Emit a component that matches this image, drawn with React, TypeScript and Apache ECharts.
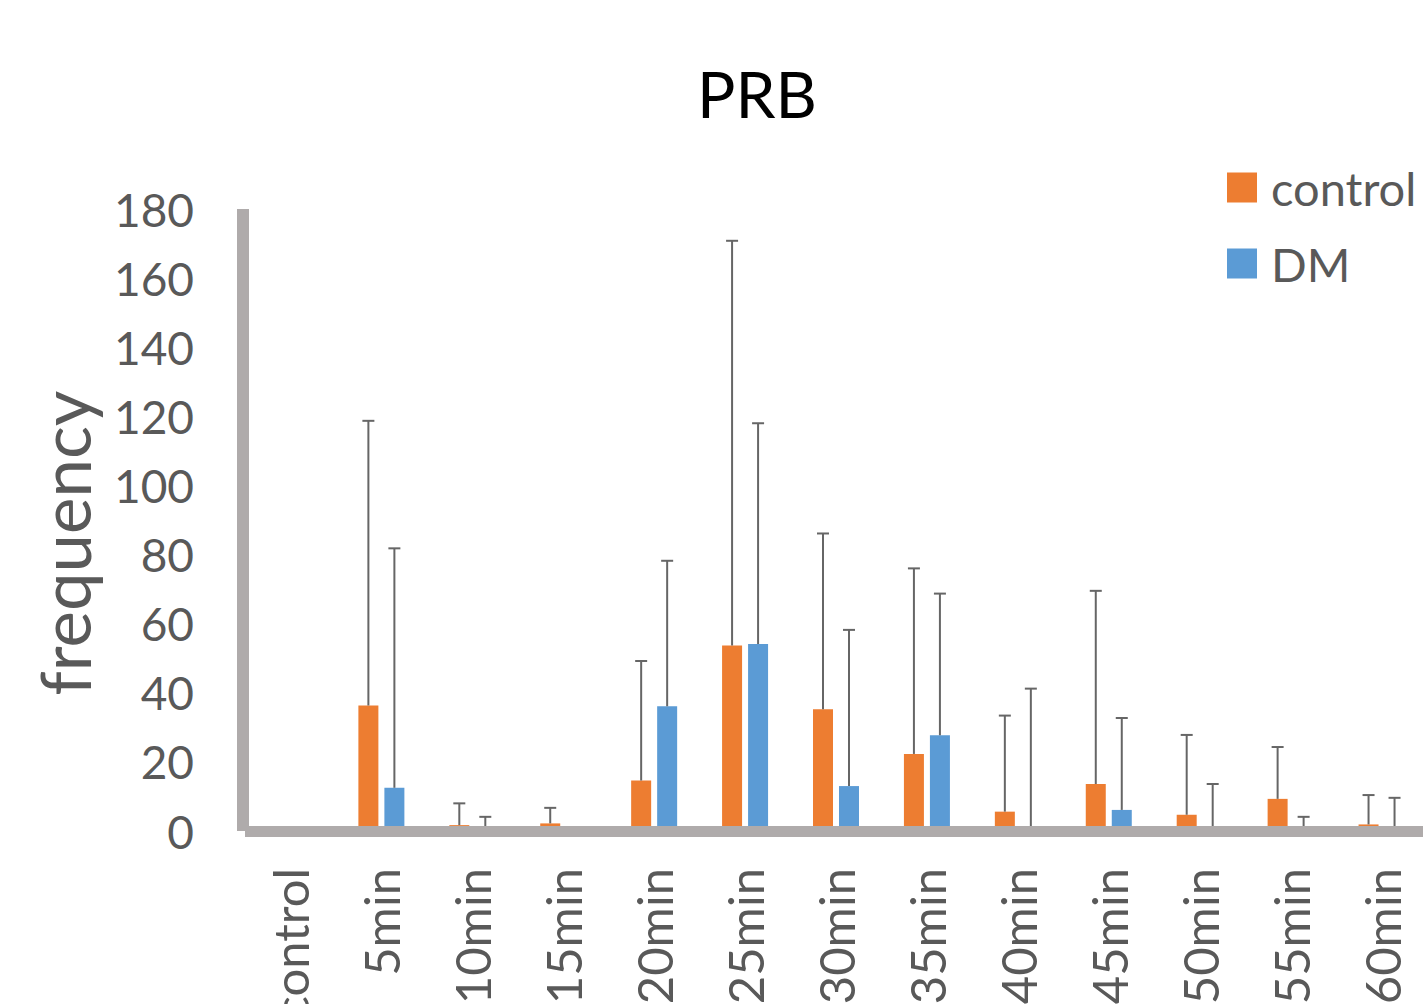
import React, { useEffect, useRef } from "react";
import * as echarts from "echarts";

const categories = ["control", "5min", "10min", "15min", "20min", "25min", "30min", "35min", "40min", "45min", "50min", "55min", "60min"];
const controlMean = [0, 36.3, 1.7, 2.2, 14.6, 53.7, 35.2, 22.3, 5.6, 13.6, 4.7, 9.3, 1.9];
const controlSD = [null, 82.4, 6.3, 4.5, 34.6, 117.1, 50.9, 53.7, 27.8, 55.9, 23.1, 15.0, 8.5];
const dmMean = [0, 12.5, 0, 0, 36.1, 54.1, 13.0, 27.7, 0, 6.1, 0, 0, 0];
const dmSD = [null, 69.3, 4.1, null, 42.1, 63.9, 45.2, 41.0, 41.2, 26.6, 13.6, 4.1, 9.6];
const yTicks = { min: 0, max: 180, interval: 20 };

const FONT = "Lato";
const ORANGE = "#ED7D31";
const BLUE = "#5B9BD5";
const AXIS = "#AFABAB";
const ERR = "#666666";
const LABEL = "#595959";

function errData(mean: number[], sd: (number | null)[]) {
  const out: number[][] = [];
  sd.forEach((s, i) => {
    if (s !== null) out.push([i, mean[i], s]);
  });
  return out;
}

function errSeries(name: string, mean: number[], sd: (number | null)[], offset: number) {
  return {
    type: "custom",
    name: name + "-err",
    z: 3,
    encode: { x: 0, y: 1 },
    data: errData(mean, sd),
    renderItem: (params: any, api: any) => {
      const idx = api.value(0);
      const m = api.value(1);
      const s = api.value(2);
      const base = api.coord([idx, m]);
      const top = api.coord([idx, m + s]);
      const x = base[0] + offset;
      const style = { stroke: ERR, lineWidth: 2 };
      return {
        type: "group",
        children: [
          { type: "line", shape: { x1: x, y1: base[1], x2: x, y2: top[1] }, style },
          { type: "line", shape: { x1: x - 6, y1: top[1], x2: x + 6, y2: top[1] }, style },
        ],
      };
    },
  };
}

export default function App() {
  const ref = useRef<HTMLDivElement>(null);
  useEffect(() => {
    document.body.style.margin = "0";
    const chart = echarts.init(ref.current!, null, { renderer: "svg" });
    chart.setOption({
      animation: false,
      backgroundColor: "#ffffff",
      title: {
        text: "PRB",
        left: 757,
        top: 61,
        textAlign: "center",
        padding: 0,
        textStyle: { fontFamily: FONT, fontSize: 64, fontWeight: "normal", color: "#000000" },
      },
      legend: {
        data: ["control", "DM"],
        orient: "vertical",
        left: 1227,
        top: 164,
        itemWidth: 30,
        itemHeight: 30,
        itemGap: 29,
        icon: "rect",
        padding: 0,
        textStyle: { fontFamily: FONT, fontSize: 47, color: LABEL, padding: [0, 0, 0, 9] },
      },
      graphic: [
        {
          type: "text",
          x: 64,
          y: 543,
          rotation: Math.PI / 2,
          style: {
            text: "frequency",
            font: `69px ${FONT}`,
            fill: LABEL,
            textAlign: "center",
            textVerticalAlign: "middle",
          },
        },
      ],
      grid: { left: 245, top: 209, width: 1182, height: 622, outerBoundsMode: "none", containLabel: false },
      xAxis: {
        type: "category",
        data: categories,
        z: 10,
        axisLine: { show: true, lineStyle: { color: AXIS, width: 11, cap: "butt" } },
        axisTick: { show: false },
        axisLabel: {
          rotate: 90,
          margin: 37,
          interval: 0,
          fontFamily: FONT,
          fontSize: 49,
          color: LABEL,
        },
      },
      yAxis: {
        type: "value",
        min: yTicks.min,
        max: yTicks.max,
        interval: yTicks.interval,
        offset: 2,
        z: 10,
        axisLine: { show: true, lineStyle: { color: AXIS, width: 12, cap: "butt" } },
        axisTick: { show: false },
        splitLine: { show: false },
        axisLabel: { margin: 49, fontFamily: FONT, fontSize: 46, color: LABEL },
      },
      series: [
        {
          type: "bar",
          name: "control",
          data: controlMean,
          barWidth: 20,
          barGap: "30%",
          itemStyle: { color: ORANGE },
        },
        {
          type: "bar",
          name: "DM",
          data: dmMean,
          barWidth: 20,
          barGap: "30%",
          itemStyle: { color: BLUE },
        },
        errSeries("control", controlMean, controlSD, -13),
        errSeries("DM", dmMean, dmSD, 13),
      ],
    });
    return () => chart.dispose();
  }, []);
  return <div ref={ref} style={{ width: 1423, height: 1004, overflow: "hidden" }} />;
}
